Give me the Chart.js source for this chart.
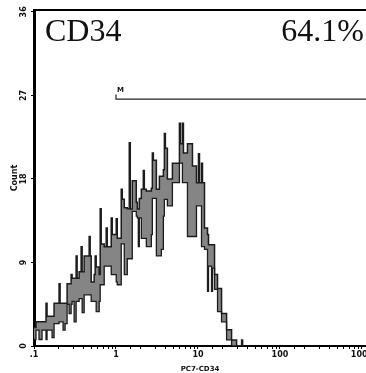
<!DOCTYPE html>
<html>
<head>
<meta charset="utf-8">
<script src="https://cdn.jsdelivr.net/npm/chart.js@4.4.1/dist/chart.umd.min.js"></script>
<style>
  html, body { margin: 0; padding: 0; background: #fff; }
  #box { width: 366px; height: 373px; }
</style>
</head>
<body>
<div id="box"><canvas id="histo"></canvas></div>
<script>
// channel left edges (PC7-CD34 intensity), last entry closes the final bin
const channelEdges = [0.100, 0.1058, 0.1151, 0.1253, 0.1402, 0.1442, 0.1661, 0.1757, 0.2022, 0.208,
  0.2263, 0.2394, 0.2533, 0.268, 0.2836, 0.2916, 0.3086, 0.3265, 0.3357, 0.3552,
  0.3757, 0.3866, 0.4089, 0.4708, 0.4842, 0.4981, 0.5419, 0.5574, 0.5733, 0.6239,
  0.6417, 0.6601, 0.7182, 0.7598, 0.7816, 0.8747, 0.8998, 1.007, 1.036, 1.159,
  1.193, 1.262, 1.373, 1.452, 1.494, 1.580, 1.768, 1.820, 1.872, 1.925,
  2.037, 2.154, 2.216, 2.344, 2.699, 2.776, 2.856, 3.108, 3.382, 3.577,
  3.784, 3.892, 4.004, 4.236, 4.876, 5.938, 6.109, 6.462, 6.648, 7.440,
  8.563, 9.588, 10.14, 10.43, 11.04, 11.35, 12.01, 13.07, 13.44, 14.63,
  15.04, 15.92, 17.32, 19.39, 22.32, 25.69, 29.58, 34.05, 35.03, 36.03];

// low and high count of the noisy trace in each bin
const countLow = [0.7, 1.7, 0.7, 1.7, 0.7, 1.7, 0.9, 2.4, 2.6, 2.6,
  1.7, 2.4, 4.5, 3.5, 4.5, 4.8, 2.6, 4.8, 4.8, 5.1,
  5.1, 3.6, 5.5, 5.5, 5.5, 4.8, 4.8, 4.8, 3.7, 4.8,
  6.6, 6.6, 8.6, 8.6, 8.6, 7.7, 7.7, 6.9, 6.6, 11.0,
  11.0, 7.7, 9.4, 9.4, 9.4, 14.5, 14.0, 13.8, 10.7, 13.8,
  11.6, 11.6, 11.6, 10.7, 12.0, 15.9, 15.9, 9.7, 9.7, 10.4,
  14.0, 15.8, 15.8, 15.1, 17.6, 19.7, 19.7, 17.6, 17.6, 11.8,
  11.8, 15.1, 15.1, 15.1, 10.7, 10.7, 10.4, 5.9, 8.6, 5.9,
  8.4, 6.1, 3.7, 2.6, 0.65, 0, 0, 0, 0];

const countHigh = [2.0, 2.6, 2.6, 2.6, 4.6, 3.2, 3.2, 4.6, 6.7, 4.6,
  4.6, 4.6, 6.7, 6.7, 7.7, 7.3, 7.3, 9.7, 7.3, 8.0,
  10.7, 8.0, 9.7, 11.8, 9.7, 6.9, 7.7, 9.7, 8.5, 7.7,
  14.8, 11.0, 10.7, 12.7, 10.7, 13.8, 12.0, 13.7, 11.6, 16.9,
  15.8, 14.9, 14.8, 21.9, 14.75, 17.8, 15.5, 14.75, 14.75, 15.9,
  16.9, 18.9, 16.9, 16.7, 17.0, 20.8, 20.0, 16.9, 18.3, 18.3,
  19.0, 22.9, 21.3, 18.0, 19.7, 24.0, 21.8, 24.0, 20.8, 21.8,
  19.4, 17.6, 20.7, 17.6, 19.7, 17.6, 12.7, 12.0, 10.9, 10.9,
  10.9, 7.7, 6.2, 3.5, 1.74, 0.65, 0, 0.65, 0];

const xTickLabels = { 0.1: '.1', 1: '1', 10: '10', 100: '100', 1000: '1000' };
const yTicks = [0, 9, 18, 27, 36];

const markerName = 'CD34';
const percentText = '64.1%';
const gateStart = 1.0;
const gateEnd = 1120;
const gateLevel = 26.6;
const gateTop = 27.1;

function toPoints(values) {
  const pts = values.map((v, i) => ({ x: channelEdges[i], y: v }));
  pts.push({ x: channelEdges[channelEdges.length - 1], y: values[values.length - 1] });
  return pts;
}

const extras = {
  id: 'extras',
  afterDraw(chart) {
    const c = chart.ctx;
    const a = chart.chartArea;
    const xs = chart.scales.x;
    const ys = chart.scales.y;
    c.save();
    c.strokeStyle = '#000';
    c.lineWidth = 2;
    c.beginPath();
    c.moveTo(a.left - 1, a.top);
    c.lineTo(a.right, a.top);
    c.stroke();

    c.fillStyle = '#111';
    c.font = '32px "Liberation Serif", "DejaVu Serif", serif';
    c.textBaseline = 'alphabetic';
    c.textAlign = 'left';
    c.fillText(markerName, a.left + 11, 41);
    c.textAlign = 'right';
    c.fillText(percentText, a.right - 2, 41);

    c.font = 'bold 7px "DejaVu Sans"';
    c.textAlign = 'left';
    c.fillText('M', xs.getPixelForValue(gateStart) + 1, ys.getPixelForValue(gateTop) - 2);
    c.restore();
  }
};

const ctx = document.getElementById('histo');

new Chart(ctx, {
  type: 'line',
  data: {
    datasets: [
      {
        label: 'low',
        data: toPoints(countLow),
        stepped: true,
        borderColor: '#1c1c1c',
        borderWidth: 1.3,
        pointRadius: 0,
        fill: false
      },
      {
        label: 'high',
        data: toPoints(countHigh),
        stepped: true,
        borderColor: '#1c1c1c',
        borderWidth: 1.5,
        pointRadius: 0,
        backgroundColor: '#858585',
        fill: '-1'
      },
      {
        label: 'gate',
        data: [{ x: gateStart, y: gateTop }, { x: gateStart, y: gateLevel }, { x: gateEnd, y: gateLevel }],
        borderColor: '#222',
        borderWidth: 1.2,
        pointRadius: 0,
        fill: false
      }
    ]
  },
  options: {
    responsive: true,
    maintainAspectRatio: false,
    animation: false,
    layout: { padding: { top: 10, left: 0, right: 0, bottom: 0 } },
    plugins: {
      legend: { display: false },
      tooltip: { enabled: false }
    },
    scales: {
      x: {
        type: 'logarithmic',
        min: 0.1,
        max: gateEnd,
        border: { display: true, color: '#000', width: 2 },
        grid: { display: true, drawOnChartArea: false, drawTicks: true, tickLength: 3, color: '#000' },
        ticks: {
          autoSkip: false,
          maxRotation: 0,
          padding: 1,
          color: '#111',
          font: { family: 'DejaVu Sans', size: 8, weight: 'bold' },
          callback: (v) => xTickLabels[Number(v.toPrecision(3))] || ''
        },
        title: {
          display: true,
          text: 'PC7-CD34',
          color: '#111',
          padding: 0,
          font: { family: 'DejaVu Sans', size: 7, weight: 'bold' }
        },
        afterFit: (scale) => {
          scale.height = 27;
          scale.paddingLeft = 0;
          scale.paddingRight = 0;
        }
      },
      y: {
        min: 0,
        max: 36.2,
        border: { display: true, color: '#000', width: 3 },
        grid: { display: true, drawOnChartArea: false, drawTicks: true, tickLength: 3, color: '#000' },
        afterBuildTicks: (scale) => {
          scale.ticks = yTicks.map((v) => ({ value: v }));
        },
        ticks: {
          minRotation: 90,
          maxRotation: 90,
          crossAlign: 'center',
          padding: 2,
          color: '#111',
          font: { family: 'DejaVu Sans', size: 8, weight: 'bold' }
        },
        title: {
          display: true,
          text: 'Count',
          color: '#111',
          padding: { top: 10, bottom: 0 },
          font: { family: 'DejaVu Sans', size: 8, weight: 'bold' }
        },
        afterFit: (scale) => {
          scale.width = 34;
          scale.paddingTop = 0;
          scale.paddingBottom = 0;
        }
      }
    }
  },
  plugins: [extras]
});
</script>
</body>
</html>
